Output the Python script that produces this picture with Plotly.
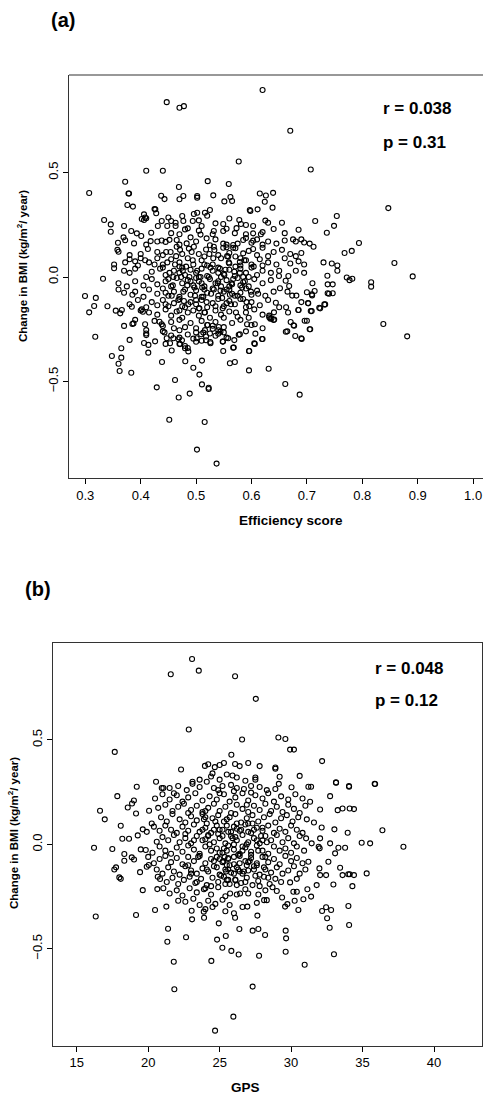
import plotly.graph_objects as go

# ---------------- Panel (a): Efficiency score vs change in BMI ----------------
eff_outer = [
    (0.620, 0.895), (0.447, 0.837), (0.470, 0.810), (0.478, 0.818), (0.670, 0.700),
    (0.577, 0.553), (0.707, 0.515), (0.410, 0.509), (0.440, 0.509), (0.307, 0.402),
    (0.372, 0.456), (0.847, 0.330), (0.858, 0.067), (0.891, 0.003), (0.816, -0.025),
    (0.816, -0.046), (0.794, 0.163), (0.781, 0.125), (0.768, 0.115), (0.521, 0.459),
    (0.469, 0.431), (0.559, 0.445), (0.639, 0.403), (0.626, 0.390), (0.754, 0.292),
    (0.749, 0.245), (0.715, 0.268), (0.736, 0.212), (0.332, -0.008), (0.2995, -0.091),
    (0.319, -0.100), (0.772, -0.002), (0.777, -0.015), (0.782, -0.008), (0.755, 0.030),
    (0.737, 0.006),
]
eff_lower = [
    (0.307, -0.169), (0.316, -0.139), (0.318, -0.286), (0.348, -0.378), (0.360, -0.415),
    (0.362, -0.450), (0.365, -0.386), (0.365, -0.341), (0.383, -0.458), (0.380, -0.301),
    (0.429, -0.528), (0.4385, -0.407), (0.4516, -0.683), (0.462, -0.493), (0.4686, -0.577),
    (0.4885, -0.558), (0.4805, -0.403), (0.495, -0.434), (0.5016, -0.826), (0.506, -0.467),
    (0.5106, -0.514), (0.5106, -0.400), (0.5155, -0.694), (0.5227, -0.530), (0.5227, -0.536),
    (0.537, -0.893), (0.5955, -0.447), (0.631, -0.439), (0.661, -0.512), (0.687, -0.563),
    (0.838, -0.225), (0.881, -0.284), (0.5955, -0.354), (0.605, -0.317), (0.619, -0.297),
    (0.570, -0.407), (0.561, -0.413), (0.5486, -0.309), (0.567, -0.338), (0.577, -0.276),
    (0.549, -0.354), (0.456, -0.352), (0.4745, -0.303), (0.406, -0.316), (0.4137, -0.362),
    (0.426, -0.308), (0.5256, -0.311), (0.518, -0.303), (0.607, -0.271), (0.6906, -0.297),
    (0.679, -0.282), (0.705, -0.250), (0.6646, -0.260), (0.6707, -0.215), (0.676, -0.231),
    (0.696, -0.209), (0.700, -0.209), (0.7087, -0.163), (0.7224, -0.147), (0.7315, -0.131),
    (0.7025, -0.126), (0.700, -0.073), (0.714, -0.067), (0.7095, -0.088), (0.7375, -0.078),
    (0.7466, -0.078), (0.7375, -0.035), (0.7466, -0.035), (0.6845, -0.158), (0.6406, -0.169),
    (0.632, -0.193), (0.634, -0.200), (0.640, -0.206), (0.644, -0.123), (0.650, -0.145),
    (0.6625, -0.145), (0.666, -0.170), (0.6514, -0.054), (0.6617, -0.018), (0.668, -0.043),
    (0.665, -0.070), (0.6735, -0.089), (0.681, -0.089), (0.6666, 0.005), (0.6496, 0.005),
    (0.355, -0.161), (0.366, -0.158), (0.363, -0.174), (0.370, -0.234), (0.387, -0.222),
    (0.385, -0.225), (0.384, -0.142), (0.402, -0.155), (0.404, -0.166), (0.408, -0.226),
    (0.410, -0.254), (0.410, -0.278), (0.414, -0.325), (0.596, -0.354), (0.606, -0.320),
    (0.579, -0.274), (0.569, -0.302), (0.568, -0.337), (0.548, -0.309), (0.558, -0.293),
    (0.550, -0.265), (0.526, -0.317), (0.535, -0.281), (0.540, -0.271), (0.544, -0.262),
    (0.513, -0.266), (0.516, -0.254), (0.521, -0.230), (0.530, -0.233), (0.541, -0.239),
    (0.501, -0.293), (0.510, -0.305), (0.509, -0.274), (0.486, -0.356), (0.480, -0.341),
    (0.471, -0.321), (0.468, -0.298), (0.459, -0.293), (0.453, -0.317), (0.447, -0.293),
    (0.443, -0.265), (0.438, -0.226), (0.434, -0.214), (0.606, -0.226), (0.592, -0.226),
    (0.620, -0.297), (0.636, -0.198), (0.641, -0.203), (0.632, -0.185), (0.662, -0.262),
    (0.677, -0.233), (0.690, -0.293), (0.706, -0.250), (0.685, -0.158), (0.707, -0.163),
    (0.702, -0.124), (0.709, -0.083), (0.724, -0.150), (0.733, -0.131), (0.740, -0.080),
]
eff_upper = [
    (0.378, 0.400), (0.379, 0.400), (0.437, 0.389), (0.443, 0.373), (0.470, 0.372),
    (0.477, 0.388), (0.502, 0.388), (0.502, 0.380), (0.531, 0.391), (0.551, 0.362),
    (0.562, 0.383), (0.565, 0.364), (0.615, 0.400), (0.624, 0.360),
    (0.376, 0.345), (0.386, 0.337), (0.4264, 0.324), (0.428, 0.305), (0.406, 0.300),
    (0.425, 0.325), (0.502, 0.308), (0.516, 0.308), (0.525, 0.321), (0.496, 0.302),
    (0.598, 0.316), (0.611, 0.324), (0.597, 0.321), (0.638, 0.332),
    (0.334, 0.273), (0.346, 0.252), (0.402, 0.278), (0.410, 0.281), (0.406, 0.273),
    (0.408, 0.285), (0.438, 0.268), (0.455, 0.268), (0.475, 0.292), (0.477, 0.268),
    (0.494, 0.268), (0.520, 0.293), (0.505, 0.271), (0.535, 0.257), (0.549, 0.254),
    (0.578, 0.273), (0.581, 0.254), (0.463, 0.260), (0.450, 0.285), (0.560, 0.280),
    (0.625, 0.270), (0.630, 0.260), (0.655, 0.260),
    (0.346, 0.217), (0.370, 0.244), (0.383, 0.220), (0.393, 0.209), (0.419, 0.212),
    (0.431, 0.244), (0.448, 0.244), (0.463, 0.244), (0.485, 0.233), (0.480, 0.228),
    (0.510, 0.244), (0.505, 0.222), (0.508, 0.203), (0.532, 0.220), (0.549, 0.220),
    (0.555, 0.231), (0.573, 0.234), (0.590, 0.249), (0.603, 0.244), (0.603, 0.209),
    (0.685, 0.226), (0.620, 0.215), (0.640, 0.230), (0.660, 0.210), (0.455, 0.210),
    (0.470, 0.205), (0.530, 0.205), (0.570, 0.210), (0.590, 0.205), (0.617, 0.205),
]
eff_core = [
    (0.369, 0.190), (0.372, 0.176), (0.359, 0.164), (0.388, 0.161), (0.401, 0.196),
    (0.418, 0.172), (0.430, 0.170), (0.438, 0.175), (0.445, 0.168), (0.452, 0.178),
    (0.465, 0.177), (0.483, 0.161), (0.519, 0.185), (0.525, 0.152), (0.585, 0.177),
    (0.590, 0.187), (0.600, 0.164), (0.603, 0.174), (0.555, 0.155), (0.549, 0.160),
    (0.567, 0.153), (0.575, 0.160), (0.610, 0.180), (0.630, 0.170), (0.645, 0.160),
    (0.660, 0.175), (0.675, 0.180), (0.680, 0.170), (0.690, 0.180), (0.695, 0.165),
    (0.705, 0.160), (0.712, 0.145), (0.490, 0.190), (0.500, 0.170), (0.535, 0.180),
    (0.470, 0.155), (0.620, 0.155), (0.410, 0.155),
    (0.360, 0.121), (0.358, 0.130), (0.413, 0.134), (0.430, 0.120), (0.446, 0.120),
    (0.454, 0.120), (0.465, 0.145), (0.471, 0.130), (0.487, 0.136), (0.496, 0.145),
    (0.518, 0.132), (0.532, 0.145), (0.533, 0.129), (0.549, 0.140), (0.555, 0.142),
    (0.567, 0.140), (0.571, 0.138), (0.585, 0.113), (0.603, 0.134), (0.620, 0.140),
    (0.640, 0.120), (0.655, 0.130), (0.670, 0.110), (0.680, 0.100), (0.690, 0.115),
    (0.400, 0.110), (0.380, 0.105), (0.505, 0.110), (0.540, 0.105), (0.560, 0.115),
    (0.610, 0.105), (0.630, 0.100), (0.440, 0.105), (0.475, 0.110), (0.595, 0.125),
    (0.380, 0.085), (0.390, 0.075), (0.400, 0.090), (0.408, 0.080), (0.415, 0.070),
    (0.515, 0.098), (0.558, 0.098), (0.571, 0.098), (0.579, 0.072), (0.352, 0.060),
    (0.372, 0.070), (0.430, 0.090), (0.440, 0.060), (0.455, 0.085), (0.470, 0.070),
    (0.485, 0.090), (0.495, 0.060), (0.510, 0.080), (0.530, 0.060), (0.545, 0.090),
    (0.560, 0.065), (0.590, 0.080), (0.600, 0.060), (0.615, 0.085), (0.630, 0.070),
    (0.645, 0.060), (0.660, 0.090), (0.670, 0.065), (0.685, 0.075), (0.695, 0.060),
    (0.730, 0.070), (0.745, 0.065), (0.755, 0.055), (0.470, 0.050), (0.520, 0.055),
    (0.580, 0.055), (0.620, 0.055), (0.395, 0.055), (0.425, 0.060),
    (0.352, 0.042), (0.370, 0.030), (0.380, 0.020), (0.390, 0.040), (0.410, 0.000),
    (0.420, 0.025), (0.435, 0.040), (0.445, 0.010), (0.460, 0.030), (0.475, 0.045),
    (0.480, 0.010), (0.490, 0.035), (0.500, 0.020), (0.510, 0.040), (0.520, 0.005),
    (0.530, 0.030), (0.540, 0.045), (0.550, 0.015), (0.560, 0.035), (0.570, 0.005),
    (0.580, 0.040), (0.590, 0.020), (0.600, 0.045), (0.610, 0.010), (0.620, 0.030),
    (0.635, 0.020), (0.650, 0.030), (0.680, 0.030), (0.695, 0.020), (0.440, 0.045),
    (0.505, 0.000), (0.545, 0.000), (0.585, 0.000), (0.470, 0.020),
    (0.360, -0.030), (0.375, -0.045), (0.390, -0.020), (0.405, -0.040), (0.420, -0.010),
    (0.430, -0.035), (0.445, -0.020), (0.455, -0.045), (0.465, -0.005), (0.475, -0.030),
    (0.485, -0.015), (0.495, -0.040), (0.505, -0.020), (0.515, -0.045), (0.525, -0.010),
    (0.535, -0.030), (0.545, -0.045), (0.555, -0.015), (0.565, -0.035), (0.575, -0.005),
    (0.585, -0.025), (0.595, -0.045), (0.605, -0.010), (0.620, -0.030), (0.710, -0.030),
    (0.500, -0.005), (0.540, -0.020), (0.580, -0.040), (0.450, -0.010), (0.510, -0.030),
    (0.560, -0.045), (0.635, -0.015),
    (0.360, -0.060), (0.370, -0.075), (0.385, -0.085), (0.390, -0.070), (0.405, -0.095),
    (0.415, -0.060), (0.430, -0.080), (0.440, -0.055), (0.450, -0.090), (0.460, -0.070),
    (0.470, -0.095), (0.480, -0.060), (0.490, -0.085), (0.500, -0.065), (0.510, -0.095),
    (0.520, -0.075), (0.530, -0.055), (0.540, -0.090), (0.550, -0.070), (0.560, -0.060),
    (0.570, -0.090), (0.580, -0.075), (0.590, -0.055), (0.600, -0.085), (0.610, -0.065),
    (0.625, -0.090), (0.640, -0.070), (0.445, -0.075), (0.515, -0.060), (0.565, -0.080),
    (0.340, -0.140), (0.380, -0.130), (0.395, -0.110), (0.410, -0.145), (0.420, -0.120),
    (0.430, -0.135), (0.440, -0.110), (0.450, -0.140), (0.460, -0.125), (0.470, -0.105),
    (0.480, -0.145), (0.490, -0.120), (0.500, -0.130), (0.510, -0.110), (0.520, -0.145),
    (0.530, -0.125), (0.540, -0.105), (0.550, -0.140), (0.560, -0.115), (0.570, -0.130),
    (0.580, -0.105), (0.590, -0.145), (0.600, -0.120), (0.615, -0.135), (0.630, -0.110),
    (0.690, -0.120), (0.475, -0.140), (0.555, -0.125), (0.505, -0.150),
    (0.400, -0.160), (0.415, -0.170), (0.430, -0.180), (0.445, -0.155), (0.455, -0.185),
    (0.465, -0.165), (0.475, -0.195), (0.485, -0.170), (0.495, -0.160), (0.505, -0.185),
    (0.515, -0.170), (0.525, -0.195), (0.535, -0.160), (0.545, -0.180), (0.560, -0.165),
    (0.575, -0.190), (0.590, -0.170), (0.605, -0.155), (0.620, -0.180), (0.595, -0.195),
    (0.550, -0.195),
    (0.390, -0.205), (0.425, -0.210), (0.440, -0.235), (0.455, -0.215), (0.470, -0.205),
    (0.480, -0.240), (0.490, -0.220), (0.500, -0.245), (0.510, -0.210), (0.520, -0.230),
    (0.535, -0.215), (0.550, -0.240), (0.565, -0.220), (0.580, -0.205), (0.600, -0.230),
    (0.620, -0.245), (0.460, -0.245), (0.530, -0.248),
    (0.410, -0.270), (0.440, -0.260), (0.455, -0.280), (0.470, -0.290), (0.485, -0.275),
    (0.500, -0.265), (0.518, -0.285), (0.525, -0.270), (0.540, -0.255), (0.555, -0.290),
    (0.470, -0.255), (0.495, -0.295), (0.590, -0.260),
    (0.470, -0.320), (0.480, -0.330), (0.445, -0.320), (0.500, -0.310), (0.485, -0.340),
]
eff_dense = [
    (0.452, 0.02), (0.458, -0.04), (0.462, 0.06), (0.468, -0.11), (0.473, 0.0),
    (0.477, -0.07), (0.482, 0.05), (0.486, -0.13), (0.490, -0.02), (0.494, 0.08),
    (0.498, -0.09), (0.502, 0.03), (0.506, -0.15), (0.511, -0.05), (0.515, 0.06),
    (0.519, -0.12), (0.523, 0.0), (0.527, -0.08), (0.531, 0.09), (0.535, -0.14),
    (0.539, -0.03), (0.543, 0.04), (0.547, -0.10), (0.551, 0.01), (0.555, -0.06),
    (0.559, 0.07), (0.563, -0.13), (0.567, -0.01), (0.571, 0.05), (0.575, -0.09),
    (0.579, 0.02), (0.583, -0.05), (0.587, 0.08), (0.591, -0.12), (0.595, 0.0),
    (0.599, -0.07), (0.445, -0.13), (0.448, 0.07), (0.456, -0.09), (0.464, 0.10),
    (0.470, -0.16), (0.476, 0.03), (0.484, -0.04), (0.492, 0.12), (0.500, -0.11),
    (0.508, 0.0), (0.516, -0.17), (0.524, 0.11), (0.532, -0.06), (0.540, 0.02),
    (0.548, -0.15), (0.556, 0.10), (0.564, -0.03), (0.572, -0.17), (0.580, 0.09),
    (0.588, -0.02), (0.596, -0.14), (0.604, 0.05), (0.612, -0.08), (0.488, 0.0),
    (0.497, -0.05), (0.526, 0.045), (0.544, -0.065), (0.553, 0.035), (0.561, -0.085),
    (0.569, 0.025), (0.585, -0.105), (0.513, -0.095), (0.478, -0.115), (0.459, 0.0),
]

# ---------------- Panel (b): GPS vs change in BMI ----------------
gps_outer = [
    (23.07, 0.888), (21.58, 0.815), (23.54, 0.832), (26.08, 0.805), (27.53, 0.697),
    (22.84, 0.550), (26.57, 0.502), (29.11, 0.512), (29.60, 0.505), (29.93, 0.454),
    (30.20, 0.454), (17.66, 0.443), (32.17, 0.399), (22.30, 0.359), (25.82, 0.429),
    (23.97, 0.376), (24.20, 0.384), (24.66, 0.370), (25.00, 0.380), (25.30, 0.390),
    (26.08, 0.385), (26.40, 0.375), (27.00, 0.390), (27.80, 0.375), (28.90, 0.368),
    (28.90, 0.362), (29.20, 0.324), (30.60, 0.328), (24.50, 0.340), (24.40, 0.325),
    (25.50, 0.335), (25.90, 0.330), (26.20, 0.320), (27.50, 0.310), (27.50, 0.320),
    (23.60, 0.310), (26.80, 0.305), (25.00, 0.310),
    (16.21, -0.016), (16.33, -0.345), (16.63, 0.161), (16.96, 0.120), (17.49, -0.022),
    (17.84, 0.231), (18.08, 0.089), (37.86, -0.011), (36.39, 0.068), (35.88, 0.289),
    (34.94, 0.008), (35.53, 0.005), (35.29, -0.139),
]
gps_lower = [
    (21.27, -0.298), (21.39, -0.404), (21.34, -0.466), (21.79, -0.562), (21.83, -0.694),
    (22.65, -0.445), (23.04, -0.318), (23.16, -0.260), (23.07, -0.359), (23.89, -0.322),
    (23.91, -0.351), (24.42, -0.558), (24.68, -0.892), (24.82, -0.456), (24.94, -0.378),
    (25.19, -0.495), (25.43, -0.439), (25.82, -0.510), (25.96, -0.825), (26.33, -0.527),
    (26.38, -0.405), (26.08, -0.351), (26.94, -0.298), (27.31, -0.681), (27.31, -0.413),
    (27.71, -0.405), (27.64, -0.341), (27.76, -0.533), (28.18, -0.434), (29.62, -0.413),
    (29.65, -0.450), (29.62, -0.514), (30.51, -0.314), (30.95, -0.576), (33.00, -0.526),
    (32.17, -0.319), (32.45, -0.301), (32.80, -0.314), (32.52, -0.354), (32.70, -0.399),
    (34.01, -0.295), (34.06, -0.386), (20.48, -0.314), (19.15, -0.338),
    (22.60, -0.275), (23.60, -0.290), (24.20, -0.270), (24.70, -0.285), (25.20, -0.265),
    (25.70, -0.290), (28.11, -0.267), (28.30, -0.267), (29.58, -0.298), (29.74, -0.286),
    (30.25, -0.270), (30.86, -0.263), (22.10, -0.270), (27.60, -0.280), (24.00, -0.310),
    (25.40, -0.320), (26.60, -0.300), (24.50, -0.300), (26.00, -0.330),
]
gps_upper = [
    (20.55, 0.300), (20.95, 0.270), (21.06, 0.270), (19.20, 0.276), (21.50, 0.270),
    (22.10, 0.280), (23.10, 0.300), (23.10, 0.290), (24.10, 0.300), (22.70, 0.260),
    (23.60, 0.275), (24.60, 0.270), (25.20, 0.280), (25.80, 0.285), (26.20, 0.270),
    (26.70, 0.265), (27.20, 0.280), (27.80, 0.275), (28.30, 0.260), (29.14, 0.290),
    (30.03, 0.274), (31.40, 0.276), (31.21, 0.276), (33.15, 0.295), (34.06, 0.276),
    (33.14, 0.297), (34.05, 0.280), (35.85, 0.290), (24.90, 0.260), (26.00, 0.255),
    (28.90, 0.265),
    (19.00, 0.210), (20.48, 0.220), (21.00, 0.240), (21.50, 0.215), (22.00, 0.235),
    (22.40, 0.205), (22.80, 0.225), (23.30, 0.245), (23.80, 0.210), (24.30, 0.230),
    (24.80, 0.215), (25.30, 0.240), (25.70, 0.205), (26.10, 0.225), (26.60, 0.245),
    (27.00, 0.210), (27.50, 0.235), (28.00, 0.220), (28.40, 0.245), (28.80, 0.205),
    (29.30, 0.230), (29.80, 0.215), (30.30, 0.240), (31.33, 0.204), (32.73, 0.231),
    (21.80, 0.245), (25.00, 0.245), (27.20, 0.248), (30.80, 0.220),
    (18.57, 0.177), (18.87, 0.196), (20.06, 0.161), (20.70, 0.175), (21.20, 0.190),
    (21.70, 0.160), (22.10, 0.180), (22.50, 0.195), (23.00, 0.165), (23.40, 0.185),
    (23.80, 0.155), (24.20, 0.175), (24.60, 0.195), (25.00, 0.160), (25.40, 0.180),
    (25.80, 0.150), (26.20, 0.190), (26.60, 0.170), (27.00, 0.155), (27.40, 0.185),
    (27.80, 0.165), (28.20, 0.195), (28.60, 0.160), (29.00, 0.180), (29.40, 0.155),
    (29.80, 0.190), (30.20, 0.170), (30.60, 0.150), (31.00, 0.185), (32.03, 0.167),
    (33.26, 0.164), (33.60, 0.172), (34.10, 0.172), (34.40, 0.169), (19.15, 0.148),
    (22.80, 0.150), (26.90, 0.190), (24.00, 0.160),
]
gps_core = [
    (20.25, 0.100), (20.90, 0.130), (21.30, 0.110), (21.70, 0.145), (22.20, 0.120),
    (22.60, 0.105), (23.00, 0.135), (23.40, 0.115), (23.80, 0.145), (24.10, 0.100),
    (24.50, 0.125), (24.90, 0.140), (25.30, 0.110), (25.70, 0.130), (26.10, 0.145),
    (26.50, 0.105), (26.90, 0.125), (27.30, 0.140), (27.70, 0.110), (28.10, 0.130),
    (28.50, 0.145), (28.90, 0.105), (29.30, 0.125), (29.70, 0.140), (30.10, 0.110),
    (30.50, 0.130), (31.10, 0.120), (31.60, 0.105), (24.00, 0.130), (25.50, 0.120),
    (27.00, 0.100),
    (19.62, 0.072), (19.90, 0.060), (20.40, 0.085), (20.80, 0.065), (21.20, 0.090),
    (21.60, 0.070), (22.00, 0.055), (22.40, 0.085), (22.80, 0.065), (23.20, 0.095),
    (23.60, 0.060), (24.00, 0.080), (24.40, 0.055), (24.80, 0.090), (25.20, 0.070),
    (25.60, 0.060), (26.00, 0.085), (26.40, 0.065), (26.80, 0.095), (27.20, 0.055),
    (27.60, 0.080), (28.00, 0.065), (28.40, 0.090), (28.80, 0.055), (29.20, 0.075),
    (29.60, 0.060), (30.00, 0.090), (30.40, 0.070), (30.80, 0.055), (32.14, 0.081),
    (33.03, 0.072), (33.96, 0.056), (25.00, 0.070), (26.20, 0.075), (27.40, 0.070),
    (24.60, 0.070),
    (18.19, 0.027), (18.66, 0.027), (19.27, 0.043), (20.60, 0.013), (21.00, 0.035),
    (21.40, 0.020), (21.80, 0.045), (22.20, 0.010), (22.60, 0.030), (23.00, 0.005),
    (23.40, 0.040), (23.80, 0.020), (24.20, 0.045), (24.60, 0.010), (25.00, 0.030),
    (25.40, 0.005), (25.80, 0.040), (26.20, 0.020), (26.60, 0.045), (27.00, 0.010),
    (27.40, 0.030), (27.80, 0.005), (28.20, 0.040), (28.60, 0.020), (29.00, 0.045),
    (29.40, 0.010), (29.80, 0.030), (30.20, 0.005), (30.60, 0.040), (31.05, 0.029),
    (31.44, 0.005), (32.03, 0.029), (32.73, 0.005), (24.00, 0.025), (26.00, 0.000),
    (28.00, 0.020),
    (18.33, -0.046), (19.48, -0.024), (19.83, -0.027), (20.30, -0.040), (20.80, -0.010),
    (21.20, -0.030), (21.60, -0.045), (22.00, -0.015), (22.40, -0.035), (22.80, -0.005),
    (23.20, -0.025), (23.60, -0.045), (24.00, -0.010), (24.40, -0.030), (24.80, -0.020),
    (25.20, -0.040), (25.60, -0.005), (26.00, -0.025), (26.40, -0.045), (26.80, -0.015),
    (27.20, -0.035), (27.60, -0.005), (28.00, -0.030), (28.40, -0.045), (28.80, -0.010),
    (29.20, -0.030), (29.60, -0.020), (30.00, -0.040), (30.40, -0.010), (30.91, -0.030),
    (31.93, -0.011), (32.00, -0.019), (33.08, -0.043), (33.31, -0.016), (33.78, -0.016),
    (25.50, -0.030), (26.60, -0.030),
    (18.33, -0.078), (18.85, -0.062), (19.01, -0.072), (20.00, -0.060), (20.40, -0.090),
    (20.80, -0.070), (21.20, -0.055), (21.60, -0.085), (22.00, -0.065), (22.40, -0.095),
    (22.80, -0.060), (23.20, -0.080), (23.60, -0.055), (24.00, -0.090), (24.40, -0.070),
    (24.80, -0.060), (25.20, -0.085), (25.60, -0.065), (26.00, -0.095), (26.40, -0.055),
    (26.80, -0.080), (27.20, -0.065), (27.60, -0.090), (28.00, -0.060), (28.40, -0.085),
    (28.80, -0.070), (29.20, -0.095), (29.60, -0.055), (30.00, -0.080), (30.40, -0.065),
    (30.80, -0.090), (31.21, -0.083), (32.61, -0.083), (25.00, -0.070), (26.00, -0.060),
    (27.00, -0.085),
    (17.63, -0.120), (17.75, -0.110), (19.43, -0.133), (19.90, -0.107), (20.04, -0.099),
    (20.60, -0.120), (21.00, -0.140), (21.40, -0.110), (21.80, -0.130), (22.20, -0.145),
    (22.60, -0.105), (23.00, -0.125), (23.40, -0.140), (23.80, -0.115), (24.20, -0.130),
    (24.60, -0.105), (25.00, -0.145), (25.40, -0.120), (25.80, -0.135), (26.20, -0.110),
    (26.60, -0.140), (27.00, -0.125), (27.40, -0.105), (27.80, -0.145), (28.20, -0.120),
    (28.60, -0.135), (29.00, -0.110), (29.40, -0.140), (29.80, -0.125), (30.20, -0.105),
    (30.60, -0.140), (31.00, -0.120), (31.98, -0.115), (33.43, -0.112), (32.45, -0.147),
    (32.03, -0.147), (33.60, -0.147), (34.00, -0.143), (34.10, -0.143), (34.40, -0.147),
    (25.60, -0.120), (26.40, -0.130),
    (17.98, -0.158), (18.08, -0.165), (20.67, -0.155), (20.83, -0.166), (21.30, -0.180),
    (21.70, -0.160), (22.10, -0.190), (22.50, -0.170), (22.90, -0.155), (23.30, -0.185),
    (23.70, -0.165), (24.10, -0.195), (24.50, -0.160), (24.90, -0.180), (25.30, -0.155),
    (25.70, -0.190), (26.10, -0.170), (26.50, -0.185), (26.90, -0.160), (27.30, -0.195),
    (27.70, -0.175), (28.10, -0.155), (28.50, -0.190), (28.90, -0.165), (29.30, -0.180),
    (29.93, -0.182), (30.40, -0.165), (31.79, -0.195), (32.96, -0.192), (34.29, -0.200),
    (25.50, -0.170), (26.20, -0.195),
    (19.62, -0.219), (20.64, -0.214), (21.06, -0.210), (21.50, -0.235), (22.00, -0.220),
    (22.40, -0.245), (22.90, -0.210), (23.40, -0.230), (23.90, -0.215), (24.40, -0.240),
    (24.90, -0.205), (25.40, -0.248), (25.73, -0.235), (26.20, -0.240), (26.43, -0.235),
    (27.00, -0.235), (27.71, -0.240), (28.20, -0.220), (28.70, -0.205), (29.00, -0.223),
    (29.37, -0.254), (30.16, -0.227), (30.40, -0.227), (31.14, -0.215), (31.40, -0.250),
    (24.00, -0.210), (26.80, -0.215),
]
gps_dense = [
    (23.2, 0.02), (23.5, -0.06), (23.8, 0.07), (24.1, -0.12), (24.3, 0.0),
    (24.6, -0.08), (24.9, 0.05), (25.1, -0.15), (25.3, -0.02), (25.5, 0.09),
    (25.7, -0.10), (25.9, 0.03), (26.1, -0.17), (26.3, -0.05), (26.5, 0.07),
    (26.7, -0.13), (26.9, 0.0), (27.1, -0.08), (27.3, 0.10), (27.5, -0.15),
    (27.7, -0.03), (27.9, 0.04), (28.1, -0.11), (28.3, 0.01), (23.4, -0.18),
    (23.9, 0.12), (24.4, -0.20), (24.7, 0.11), (25.0, -0.04), (25.2, 0.04),
    (25.4, -0.19), (25.6, -0.07), (25.8, 0.06), (26.0, -0.14), (26.2, 0.10),
    (26.4, -0.09), (26.6, -0.01), (26.8, -0.18), (27.0, 0.06), (27.2, -0.05),
    (27.4, -0.12), (27.6, 0.02), (27.8, -0.20), (28.0, 0.08), (28.2, -0.06),
    (28.4, -0.16), (22.8, -0.10), (22.6, 0.05), (23.0, -0.14), (24.2, 0.04),
    (24.8, -0.11), (25.5, -0.10), (26.1, 0.035), (26.9, -0.10), (27.6, -0.10),
    (25.35, -0.06), (25.45, -0.13), (25.6, -0.17), (25.25, -0.08), (26.3, -0.12),
]

eff_pts = eff_outer + eff_lower + eff_upper + eff_core + eff_dense
gps_pts = gps_outer + gps_lower + gps_upper + gps_core + gps_dense

W, H = 483, 1095

def px(x):
    return x / W

def py(y):
    return 1 - y / H

fig = go.Figure()
marker = dict(symbol="circle-open", size=5, color="black", line=dict(width=1.1, color="black"))
fig.add_trace(go.Scatter(x=[p[0] for p in eff_pts], y=[p[1] for p in eff_pts], mode="markers",
                         marker=marker, xaxis="x", yaxis="y", showlegend=False, hoverinfo="skip"))
fig.add_trace(go.Scatter(x=[p[0] for p in gps_pts], y=[p[1] for p in gps_pts], mode="markers",
                         marker=marker, xaxis="x2", yaxis="y2", showlegend=False, hoverinfo="skip"))

tickfont = dict(family="Liberation Sans, Arial, sans-serif", size=13, color="black")
ax_common = dict(showgrid=False, zeroline=False, ticks="outside", ticklen=5, tickwidth=1,
                 tickcolor="black", showline=True, linecolor="#333", linewidth=1.2,
                 tickfont=tickfont)

eff_ticks = [0.3, 0.4, 0.5, 0.6, 0.7, 0.8, 0.9, 1.0]
gps_ticks = [15, 20, 25, 30, 35, 40]
bmi_ticks = [-0.5, 0.0, 0.5]
bmi_labels = ["\u22120.5", "0.0", "0.5"]

fig.update_layout(
    width=W, height=H, margin=dict(l=0, r=0, t=0, b=0),
    paper_bgcolor="white", plot_bgcolor="white",
    xaxis=dict(ax_common, domain=[px(69), 1.0], range=[0.2706, 1.0179], anchor="y",
               tickvals=eff_ticks, ticktext=["%.1f" % v for v in eff_ticks]),
    yaxis=dict(ax_common, domain=[py(478), py(75)], range=[-0.962, 0.967], anchor="x",
               tickvals=bmi_ticks, ticktext=bmi_labels, tickangle=-90),
    xaxis2=dict(ax_common, domain=[px(53.3), px(482.3)], range=[13.36, 43.38], anchor="y2",
                tickvals=gps_ticks, ticktext=[str(v) for v in gps_ticks], mirror=True),
    yaxis2=dict(ax_common, domain=[py(1045.7), py(643.3)], range=[-0.964, 0.963], anchor="x2",
                tickvals=bmi_ticks, ticktext=bmi_labels, tickangle=-90, mirror=True),
)

# top border of panel (a) (its right edge lies outside the image)
fig.add_shape(type="line", xref="paper", yref="paper", x0=px(69), x1=1.0, y0=py(75), y1=py(75),
              line=dict(color="#333", width=1.2))

fam = "Liberation Sans, Arial, sans-serif"
def ann(text, x, y, size, angle=0, xanchor="center"):
    fig.add_annotation(text=text, x=px(x), y=py(y), xref="paper", yref="paper", showarrow=False,
                       xanchor=xanchor, yanchor="middle", textangle=angle,
                       font=dict(family=fam, size=size, color="black"))

ann("<b>(a)</b>", 63, 20, 20)
ann("<b>(b)</b>", 38, 589, 20)
ann("<b>r = 0.038</b>", 381, 109, 17, xanchor="left")
ann("<b>p = 0.31</b>", 381, 142, 17, xanchor="left")
ann("<b>r = 0.048</b>", 373, 668, 17, xanchor="left")
ann("<b>p = 0.12</b>", 373, 700, 17, xanchor="left")
ann("<b>Efficiency score</b>", 291, 520, 13.5)
ann("<b>GPS</b>", 246, 1087, 13.5)
ann("<b>Change in BMI (kg/m<sup>2</sup>/ year)</b>", 22, 266, 11.5, angle=-90)
ann("<b>Change in BMI (kg/m<sup>2</sup>/ year)</b>", 13, 833, 11.5, angle=-90)

# remove the browser's default 8px body margin so the figure sits at the window origin
fig.write_html("out.html", config={"displayModeBar": False},
               post_script="document.body.style.margin='0';document.body.style.overflow='hidden';")
